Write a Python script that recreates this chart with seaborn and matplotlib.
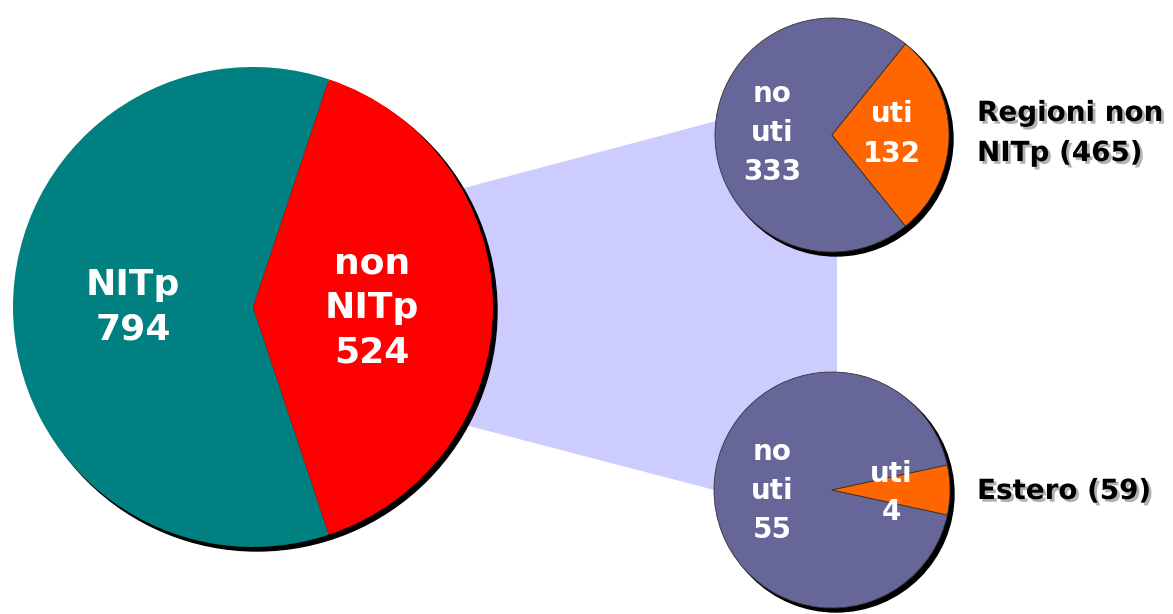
import matplotlib
matplotlib.use("Agg")
import matplotlib.pyplot as plt
import matplotlib.patches as mpatches
import matplotlib.patheffects as pe
import seaborn as sns

# --- Data ---
main_labels = ["NITp\n794", "non\nNITp\n524"]
main_values = [794, 524]
regioni_labels = ["no\nuti\n333", "uti\n132"]
regioni_values = [333, 132]
estero_labels = ["no\nuti\n55", "uti\n4"]
estero_values = [55, 4]
group_labels = ["Regioni non\nNITp (465)", "Estero (59)"]

main_colors = ["#008080", "#FF0000"]
sub_colors = ["#666699", "#FF6600"]

sns.set_theme(style="white")
plt.rcParams["font.family"] = ["DejaVu Sans"]

fig = plt.figure(figsize=(11.73, 6.14), dpi=100)
ax = fig.add_axes([0, 0, 1, 1])

# connector band from the main pie to the two small pies
band = mpatches.Polygon([(400, 205), (837, 89), (837, 522), (400, 408)],
                        closed=True, facecolor="#CCCCFF", edgecolor="none", zorder=1)
ax.add_patch(band)


def draw_pie(values, labels, colors, center, radius, fs, ls, label_pos, edge):
    cx, cy = center
    # black drop shadow
    ax.add_patch(mpatches.Circle((cx + 4, cy + 4), radius, color="black", zorder=2))
    start = 180 * values[1] / sum(values)
    wedges, _ = ax.pie(values, colors=colors, center=center, radius=radius,
                       startangle=start, counterclock=True,
                       wedgeprops=dict(edgecolor=edge, linewidth=0.6))
    for w in wedges:
        w.set_zorder(3)
    for lab, (x, y) in zip(labels, label_pos):
        ax.text(x, y, lab, color="white", fontsize=fs, fontweight="bold",
                ha="center", va="center", linespacing=ls, zorder=5)


draw_pie(main_values, main_labels, main_colors, (253, 307), 240, 26, 1.4,
         [(133, 307), (372, 308)], "none")
draw_pie(regioni_values, regioni_labels, sub_colors, (832, 135), 117, 20, 1.5,
         [(772, 133), (892, 134)], "#333333")
draw_pie(estero_values, estero_labels, sub_colors, (832, 490), 118, 20, 1.5,
         [(772, 491), (891, 493)], "#333333")

shadow = [pe.withSimplePatchShadow(offset=(2, -2), shadow_rgbFace="gray", alpha=0.6)]
ax.text(977, 133, group_labels[0], fontsize=20, fontweight="bold", color="black",
        ha="left", va="center", linespacing=1.55, path_effects=shadow)
ax.text(977, 491, group_labels[1], fontsize=20, fontweight="bold", color="black",
        ha="left", va="center", path_effects=shadow)

ax.set_xlim(0, 1173)
ax.set_ylim(614, 0)
ax.set_aspect("equal")
ax.axis("off")

fig.savefig("out.png", dpi=100)
